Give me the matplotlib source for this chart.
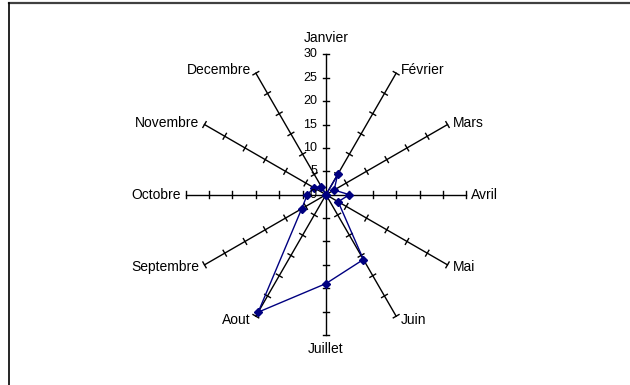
import numpy as np
import matplotlib
matplotlib.use("Agg")
import matplotlib.pyplot as plt
from matplotlib.lines import Line2D

plt.rcParams["font.family"] = ["Liberation Sans", "DejaVu Sans"]

# data
months = ["Janvier", "Février", "Mars", "Avril", "Mai", "Juin",
          "Juillet", "Aout", "Septembre", "Octobre", "Novembre", "Decembre"]
values = [0, 5, 2, 5, 3, 16, 19, 29, 6, 4, 3, 2]
r_ticks = [0, 5, 10, 15, 20, 25, 30]
r_max = 30

# figure / layout (pixels)
W, H = 630, 385
fig = plt.figure(figsize=(W / 100, H / 100), dpi=100)
cx, cy = 326, H - 194.7
scale = 140.3 / r_max  # px per unit
L = 40
half = L * scale
ax = fig.add_axes([(cx - half) / W, (cy - half) / H, 2 * half / W, 2 * half / H])
ax.set_xlim(-L, L)
ax.set_ylim(-L, L)
ax.axis("off")

theta = np.arange(len(months)) * 2 * np.pi / len(months)
s, c = np.sin(theta), np.cos(theta)

# spokes with cross ticks
tick_half = 3.3 / scale
for i in range(len(months)):
    ax.plot([0, r_max * s[i]], [0, r_max * c[i]], color="black", lw=1, clip_on=False)
    for r in r_ticks[1:]:
        px, py = r * s[i], r * c[i]
        # perpendicular direction
        ux, uy = c[i], -s[i]
        ax.plot([px - ux * tick_half, px + ux * tick_half],
                [py - uy * tick_half, py + uy * tick_half],
                color="black", lw=1, clip_on=False)

# radial tick labels on the first axis
for r in r_ticks:
    ax.annotate(str(r), (0, r), xytext=(-9, 0), textcoords="offset pixels",
                ha="right", va="center", fontsize=9, color="black")

# month labels
for i, m in enumerate(months):
    if abs(s[i]) < 1e-6:
        ha = "center"
        off = (0, 16) if c[i] > 0 else (0, -14)
    else:
        ha = "left" if s[i] > 0 else "right"
        off = (5 * np.sign(s[i]), 4 * c[i])
    ax.annotate(m, (r_max * s[i], r_max * c[i]), xytext=off,
                textcoords="offset pixels", ha=ha, va="center",
                fontsize=10, color="black")

# data series
v = np.array(values + values[:1], dtype=float)
t_s = np.append(s, s[0])
t_c = np.append(c, c[0])
ax.plot(v * t_s, v * t_c, color="#000080", lw=1, marker="D", markersize=4,
        markerfacecolor="#000080", markeredgecolor="#000080", clip_on=False)

# chart area border (only top and left are visible)
fig.add_artist(Line2D([9 / W, 1], [1 - 3 / H, 1 - 3 / H], color="#404040", lw=1.6,
                      transform=fig.transFigure))
fig.add_artist(Line2D([9 / W, 9 / W], [0, 1 - 3 / H], color="black", lw=1.2,
                      transform=fig.transFigure))

plt.savefig("out.png", dpi=100)
